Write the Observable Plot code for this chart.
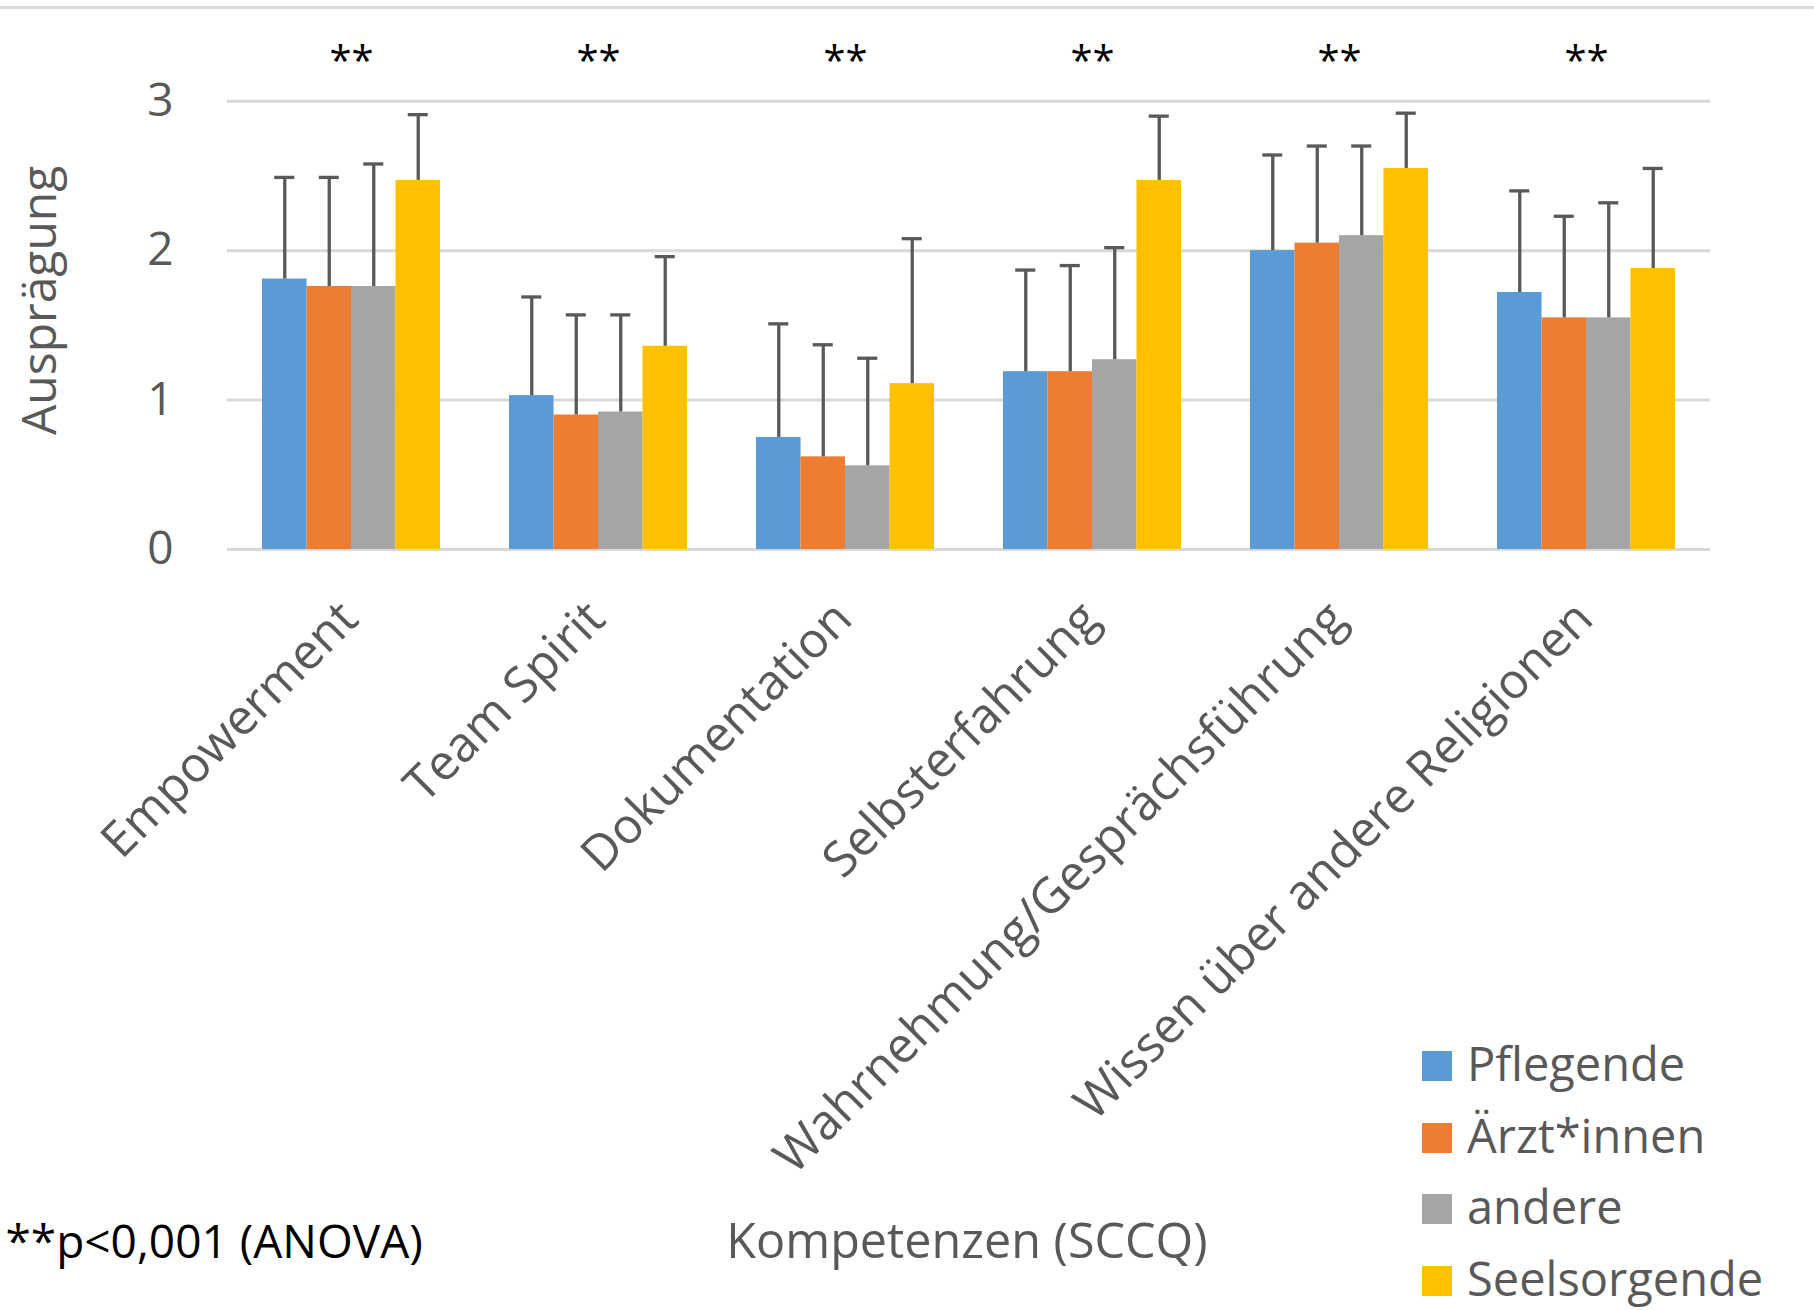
<!DOCTYPE html>
<html>
<head>
<meta charset="utf-8">
<script src="https://cdn.jsdelivr.net/npm/d3@7"></script>
<script src="https://cdn.jsdelivr.net/npm/@observablehq/plot@0.6"></script>
<style>
  html, body { margin: 0; padding: 0; background: #fff; overflow: hidden; }
  #wrap { position: relative; width: 1814px; height: 1310px; font-family: "Open Sans", sans-serif; }
  #topline { position: absolute; left: 0; top: 6px; width: 1814px; height: 3px; background: #d9d9d9; }
  #legend { position: absolute; left: 1422px; top: 1028px; font-size: 47px; color: #595959; }
  #legend .row { height: 71.5px; line-height: 71.5px; white-space: nowrap; }
  #legend .sw { display: inline-block; width: 30px; height: 30px; margin-right: 15px; vertical-align: baseline; }
</style>
</head>
<body>
<div id="wrap"><div id="topline"></div><div id="legend"></div></div>
<script>
// ---- data ----
const categories = ["Empowerment", "Team Spirit", "Dokumentation", "Selbsterfahrung", "Wahrnehmung/Gesprächsführung", "Wissen über andere Religionen"];
const series = ["Pflegende", "Ärzt*innen", "andere", "Seelsorgende"];
const colors = ["#5B9BD5", "#ED7D31", "#A5A5A5", "#FFC000"];
const meanPflegende    = [1.81, 1.03, 0.75, 1.19, 2.00, 1.72];
const meanAerzte       = [1.76, 0.90, 0.62, 1.19, 2.05, 1.55];
const meanAndere       = [1.76, 0.92, 0.56, 1.27, 2.10, 1.55];
const meanSeelsorgende = [2.47, 1.36, 1.11, 2.47, 2.55, 1.88];
const sdPflegende    = [0.68, 0.66, 0.76, 0.68, 0.64, 0.68];
const sdAerzte       = [0.73, 0.67, 0.75, 0.71, 0.65, 0.68];
const sdAndere       = [0.82, 0.65, 0.72, 0.75, 0.60, 0.77];
const sdSeelsorgende = [0.44, 0.60, 0.97, 0.43, 0.37, 0.67];
const yTicks = [0, 1, 2, 3];
const significance = ["**", "**", "**", "**", "**", "**"];
const yLabel = "Ausprägung";
const xLabel = "Kompetenzen (SCCQ)";
const footnote = "**p<0,001 (ANOVA)";

// ---- table ----
const means = [meanPflegende, meanAerzte, meanAndere, meanSeelsorgende];
const sds = [sdPflegende, sdAerzte, sdAndere, sdSeelsorgende];
const rows = [];
series.forEach((s, i) => categories.forEach((c, j) => rows.push({series: s, category: c, mean: means[i][j], sd: sds[i][j]})));
const sig = categories.map((c, j) => ({category: c, label: significance[j]}));

// ---- layout ----
const W = 1814, H = 1310, mL = 227, mR = 104, mT = 100.7, mB = 761;
const padIn = 0.28, padOut = 0.14;
const n = series.length;
const step = (W - mL - mR) / (categories.length - padIn + 2 * padOut);
const bw = step * (1 - padIn) / n;
const capW = 20;
const errColor = "#595959";
const textColor = "#595959";

const marks = [Plot.ruleY(yTicks, {stroke: "#d9d9d9", strokeWidth: 3})];
series.forEach((s, i) => {
  const sub = rows.filter(r => r.series === s);
  marks.push(Plot.barY(sub, {x: "category", y: "mean", fill: "series", insetLeft: i * bw, insetRight: (n - 1 - i) * bw}));
});
series.forEach((s, i) => {
  const sub = rows.filter(r => r.series === s);
  marks.push(Plot.ruleX(sub, {x: "category", y1: "mean", y2: d => d.mean + d.sd, dx: (i - (n - 1) / 2) * bw, stroke: errColor, strokeWidth: 3.3}));
  marks.push(Plot.tickY(sub, {x: "category", y: d => d.mean + d.sd,
    insetLeft: i * bw + (bw - capW) / 2, insetRight: (n - 1 - i) * bw + (bw - capW) / 2,
    stroke: errColor, strokeWidth: 3.3}));
});
marks.push(
  Plot.axisY({ticks: yTicks, tickSize: 0, tickPadding: 54, fontSize: 46, color: textColor, label: null, tickFormat: d => String(d)}),
  Plot.axisX({tickSize: 0, tickPadding: 61, tickRotate: -45, fontSize: 49, color: textColor, label: null, dx: -2}),
  Plot.text(sig, {x: "category", text: "label", frameAnchor: "top", dy: -55, fontSize: 40, fill: "#000"}),
  Plot.text([yLabel], {frameAnchor: "left", rotate: -90, dx: -187, dy: -25, fontSize: 48, fill: textColor, lineAnchor: "middle", textAnchor: "middle"}),
  Plot.text([xLabel], {frameAnchor: "bottom", dy: 693, dx: -2, fontSize: 48.5, fill: textColor, lineAnchor: "middle"}),
  Plot.text([footnote], {frameAnchor: "bottom-left", dx: -222, dy: 694, fontSize: 46, fill: "#000", textAnchor: "start", lineAnchor: "middle"})
);

const chart = Plot.plot({
  width: W, height: H,
  marginLeft: mL, marginRight: mR, marginTop: mT, marginBottom: mB,
  style: {fontFamily: "Open Sans", background: "#fff", overflow: "visible"},
  x: {domain: categories, paddingInner: padIn, paddingOuter: padOut, axis: null},
  y: {domain: [0, 3], axis: null},
  color: {domain: series, range: colors},
  marks
});
chart.style.position = "absolute";
chart.style.left = "0";
chart.style.top = "0";
const wrap = document.getElementById("wrap");
wrap.insertBefore(chart, wrap.firstChild);

// legend
const lg = document.getElementById("legend");
series.forEach((s, i) => {
  const row = document.createElement("div");
  row.className = "row";
  const sw = document.createElement("span");
  sw.className = "sw";
  sw.style.background = colors[i];
  row.appendChild(sw);
  row.appendChild(document.createTextNode(s));
  lg.appendChild(row);
});
</script>
</body>
</html>
